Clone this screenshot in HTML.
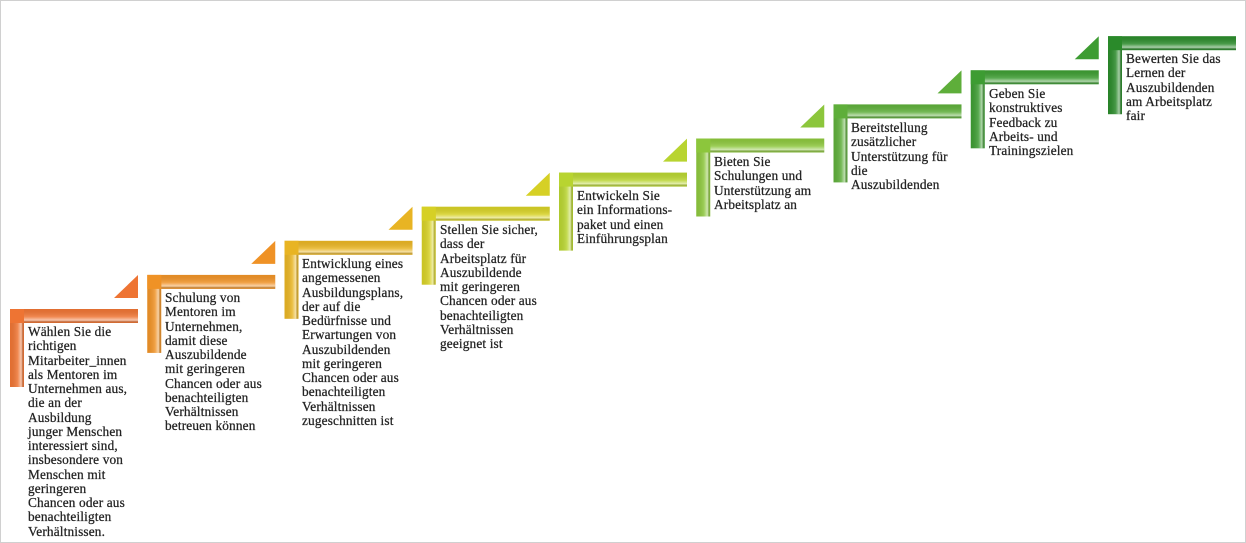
<!DOCTYPE html>
<html><head><meta charset="utf-8"><style>
body{margin:0;width:1246px;height:543px;background:#fff;overflow:hidden;position:relative;font-family:"Liberation Serif",serif}
.frame{position:absolute;left:0;top:0;width:1244px;height:541px;border:1px solid #d0d0d0}
.t{position:absolute;font-size:13.3px;line-height:14.25px;color:#222;white-space:nowrap;letter-spacing:0.15px;-webkit-text-stroke:0.25px #222}
</style></head><body>
<div class="frame"></div>
<svg width="1246" height="543" style="position:absolute;left:0;top:0">
<defs>
<linearGradient id="hl" x1="0" y1="0" x2="0" y2="1"><stop offset="0" stop-color="#000" stop-opacity="0.05"/><stop offset="0.55" stop-color="#fff" stop-opacity="0.15"/><stop offset="0.8" stop-color="#fff" stop-opacity="0.6"/><stop offset="1" stop-color="#000" stop-opacity="0.05"/></linearGradient>
<linearGradient id="vl" x1="0" y1="0" x2="1" y2="0"><stop offset="0" stop-color="#000" stop-opacity="0.05"/><stop offset="0.55" stop-color="#fff" stop-opacity="0.15"/><stop offset="0.8" stop-color="#fff" stop-opacity="0.6"/><stop offset="1" stop-color="#000" stop-opacity="0.05"/></linearGradient>
</defs>
<g id="steps"></g>
</svg>
<script>
var cols=["#ee7433","#ef9226","#e8b423","#d6d025","#b8d430","#8cc63c","#5eae3a","#3d9c32","#2a8a2a"];
var g=document.getElementById("steps"),s="";
for(var i=0;i<9;i++){var x=10+137.25*i,y=309-34.1*i,c=cols[i];
s+='<rect x="'+x+'" y="'+y+'" width="128" height="14" fill="'+c+'"/>';
s+='<rect x="'+(x+14)+'" y="'+y+'" width="114" height="14" fill="url(#hl)"/>';
s+='<rect x="'+x+'" y="'+y+'" width="14" height="78" fill="'+c+'"/>';
s+='<rect x="'+x+'" y="'+(y+14)+'" width="14" height="64" fill="url(#vl)"/>';
if(i<8){var rx=x+128,by=y-11;s+='<polygon points="'+(rx-24)+','+by+' '+rx+','+(by-23)+' '+rx+','+by+'" fill="'+c+'"/>';}
}
g.innerHTML=s;
</script>
<div class="t" style="left:28px;top:325px">Wählen Sie die<br>richtigen<br>Mitarbeiter_innen<br>als Mentoren im<br>Unternehmen aus,<br>die an der<br>Ausbildung<br>junger Menschen<br>interessiert sind,<br>insbesondere von<br>Menschen mit<br>geringeren<br>Chancen oder aus<br>benachteiligten<br>Verhältnissen.</div>
<div class="t" style="left:165px;top:291px">Schulung von<br>Mentoren im<br>Unternehmen,<br>damit diese<br>Auszubildende<br>mit geringeren<br>Chancen oder aus<br>benachteiligten<br>Verhältnissen<br>betreuen können</div>
<div class="t" style="left:302px;top:257px">Entwicklung eines<br>angemessenen<br>Ausbildungsplans,<br>der auf die<br>Bedürfnisse und<br>Erwartungen von<br>Auszubildenden<br>mit geringeren<br>Chancen oder aus<br>benachteiligten<br>Verhältnissen<br>zugeschnitten ist</div>
<div class="t" style="left:440px;top:223px">Stellen Sie sicher,<br>dass der<br>Arbeitsplatz für<br>Auszubildende<br>mit geringeren<br>Chancen oder aus<br>benachteiligten<br>Verhältnissen<br>geeignet ist</div>
<div class="t" style="left:577px;top:189px">Entwickeln Sie<br>ein Informations-<br>paket und einen<br>Einführungsplan</div>
<div class="t" style="left:714px;top:155px">Bieten Sie<br>Schulungen und<br>Unterstützung am<br>Arbeitsplatz an</div>
<div class="t" style="left:851px;top:121px">Bereitstellung<br>zusätzlicher<br>Unterstützung für<br>die<br>Auszubildenden</div>
<div class="t" style="left:989px;top:87px">Geben Sie<br>konstruktives<br>Feedback zu<br>Arbeits- und<br>Trainingszielen</div>
<div class="t" style="left:1126px;top:52px">Bewerten Sie das<br>Lernen der<br>Auszubildenden<br>am Arbeitsplatz<br>fair</div>
</body></html>
